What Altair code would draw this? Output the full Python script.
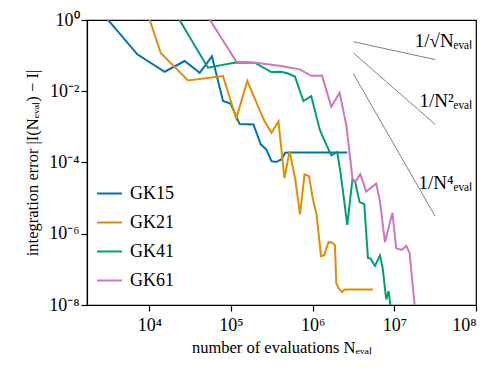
import altair as alt
import pandas as pd
import math

# ---- data ----
series_names = ["GK15", "GK21", "GK41", "GK61"]
series_colors = ["#0173b2", "#de8f05", "#029e73", "#cc78bc"]

gk15_n = [2710, 7130, 15420, 27100, 41400, 58500, 79800, 98600, 127900, 188400,
          231200, 270400, 313300, 358100, 413000, 462400, 527200, 2655000]
gk15_err = [1.48, 0.109, 0.0353, 0.0705, 0.0331, 0.0955, 0.00531, 0.00451, 0.00120, 0.00117,
            3.22e-4, 2.33e-4, 1.09e-4, 1.03e-4, 1.22e-4, 1.87e-4, 1.9e-4, 1.9e-4]

gk21_n = [9120, 13800, 29800, 79800, 116100, 158500, 253500, 313300, 381100, 451900,
          522400, 612400, 699800, 794300, 901600, 1.009e6, 1.114e6, 1.265e6, 1.387e6, 1.560e6,
          1.722e6, 1.875e6, 1.945e6, 2.128e6, 2.286e6, 2.466e6, 5.470e6]
gk21_err = [2.04, 0.118, 0.0202, 0.0267, 0.00171, 0.0194, 0.00155, 6.82e-4, 0.00141, 3.65e-5,
            2.09e-4, 3.35e-5, 3.48e-6, 4.63e-5, 4.15e-5, 9.18e-6, 3.56e-6, 2.35e-7, 2.51e-7, 5.81e-7,
            5.70e-7, 4.79e-7, 4.09e-8, 2.72e-8, 2.29e-8, 2.72e-8, 2.72e-8]

gk41_n = [19500, 52240, 113500, 195000, 311200, 413000, 498900, 606700, 770900, 961600,
          1.057e6, 1.219e6, 1.466e6, 1.690e6, 2.000e6, 2.203e6, 2.655e6, 3.069e6, 3.296e6, 3.758e6,
          4.285e6, 4.753e6, 5.129e6, 5.794e6, 6.668e6, 7.194e6, 7.962e6, 8.511e6, 9.204e6]
gk41_err = [2.04, 0.0457, 0.0640, 0.0632, 0.0346, 0.0351, 0.0314, 0.0259, 0.00531, 0.00733,
            0.00310, 8.51e-4, 3.22e-4, 1.59e-4, 1.96e-4, 4.88e-5, 1.77e-6, 3.35e-5, 3.01e-5, 7.73e-6,
            6.78e-6, 2.10e-7, 2.00e-7, 1.25e-7, 2.43e-7, 1.10e-7, 1.43e-8, 2.44e-8, 5.9e-9]

gk61_n = [45400, 116700, 199500, 413000, 693400, 961600, 1.300e6, 1.690e6, 2.138e6, 2.594e6,
          3.069e6, 3.296e6, 3.828e6, 4.529e6, 5.998e6, 6.668e6, 7.674e6, 9.484e6, 1.054e7, 1.233e7,
          1.400e7, 1.538e7, 1.811e7]
gk61_err = [2.04, 0.0675, 0.0632, 0.0511, 0.0412, 0.0271, 0.0276, 0.00367, 0.00908, 0.00105,
            3.65e-5, 2.72e-5, 4.72e-5, 1.52e-5, 2.55e-5, 8.24e-6, 5.81e-7, 3.86e-6, 3.94e-7, 3.53e-7,
            4.57e-7, 2.90e-7, 5.9e-9]

# reference slopes (start/end points)
ref_names = ["sqrt", "n2", "n4"]
ref_x = [3.16e6, 3.16e7]
ref_y = {"sqrt": [0.245, 0.0776], "n2": [0.118, 0.00118], "n4": [0.0309, 3.09e-6]}
ref_labels = ["1/√Nₑᵥₐₗ", "1/N²ₑᵥₐₗ", "1/N⁴ₑᵥₐₗ"]
ref_label_x = [9.0e7, 9.0e7, 9.0e7]
ref_label_y = [0.26, 0.0053, 2.6e-5]

x_ticks = [1e4, 1e5, 1e6, 1e7, 1e8]
x_tick_labels = ["10⁴", "10⁵", "10⁶", "10⁷", "10⁸"]
y_ticks = [1, 1e-2, 1e-4, 1e-6, 1e-8]
y_tick_labels = ["10⁰", "10⁻²", "10⁻⁴", "10⁻⁶", "10⁻⁸"]
x_domain = [1726, 1e8]
y_domain = [1e-8, 1]

# ---- tables ----
rows = []
for name, ns, errs in zip(series_names,
                          [gk15_n, gk21_n, gk41_n, gk61_n],
                          [gk15_err, gk21_err, gk41_err, gk61_err]):
    for i, (n, e) in enumerate(zip(ns, errs)):
        rows.append({"series": name, "n": n, "err": e, "i": i})
df = pd.DataFrame(rows)

ref_rows = []
for name in ref_names:
    for i, (xv, yv) in enumerate(zip(ref_x, ref_y[name])):
        ref_rows.append({"ref": name, "n": xv, "err": yv, "i": i})
ref_df = pd.DataFrame(ref_rows)

lab_df = pd.DataFrame({"label": ref_labels, "n": ref_label_x, "err": ref_label_y})


def label_expr(vals, labels):
    expr = "''"
    for v, l in zip(reversed(vals), reversed(labels)):
        expr = f"abs(log(datum.value)/log(10) - ({math.log10(v)})) < 0.01 ? '{l}' : {expr}"
    return expr


FONT = "Liberation Serif"

xscale = alt.Scale(type="log", domain=x_domain, nice=False)
yscale = alt.Scale(type="log", domain=y_domain, nice=False)

xaxis = alt.Axis(values=x_ticks, labelExpr=label_expr(x_ticks, x_tick_labels),
                 title="number of evaluations Nₑᵥₐₗ", grid=False,
                 labelPadding=5, titlePadding=5)
yaxis = alt.Axis(values=y_ticks, labelExpr=label_expr(y_ticks, y_tick_labels),
                 title="integration error |I(Nₑᵥₐₗ) − I|", grid=False,
                 labelPadding=2, titlePadding=8)

lines = alt.Chart(df).mark_line(strokeWidth=2, clip=True).encode(
    x=alt.X("n:Q", scale=xscale, axis=xaxis),
    y=alt.Y("err:Q", scale=yscale, axis=yaxis),
    color=alt.Color("series:N",
                    scale=alt.Scale(domain=series_names, range=series_colors),
                    legend=alt.Legend(orient="none", legendX=9, legendY=160, title=None,
                                      symbolType="stroke", symbolSize=625, symbolStrokeWidth=2,
                                      labelFont=FONT, labelFontSize=18, rowPadding=6,
                                      padding=0, labelOffset=7)),
    order="i:Q",
)

refs = alt.Chart(ref_df).mark_line(strokeWidth=1, color="#808080", clip=True).encode(
    x=alt.X("n:Q", scale=xscale),
    y=alt.Y("err:Q", scale=yscale),
    detail="ref:N",
    order="i:Q",
)

labels = alt.Chart(lab_df).mark_text(align="right", baseline="middle", font=FONT,
                                     fontSize=19, color="black").encode(
    x=alt.X("n:Q", scale=xscale),
    y=alt.Y("err:Q", scale=yscale),
    text="label:N",
)

chart = alt.layer(refs, lines, labels).properties(
    width=389, height=285,
    padding={"left": 16, "top": 3, "right": 5, "bottom": 5},
).configure_view(
    stroke="black", strokeWidth=1.2
).configure_axis(
    domainColor="black", domainWidth=1.2, tickColor="black", tickWidth=1.2, tickSize=6,
    labelFont=FONT, labelFontSize=18, labelColor="black",
    titleFont=FONT, titleFontSize=16.5, titleFontWeight="normal", titleColor="black",
)

chart.save("out.html", embed_options={"renderer": "svg", "actions": False})
